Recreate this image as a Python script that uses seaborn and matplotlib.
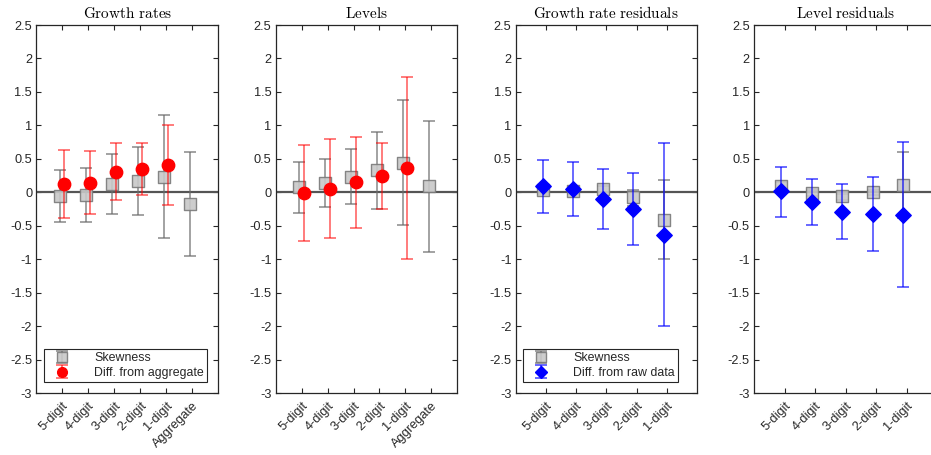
import matplotlib
matplotlib.use("Agg")
import matplotlib.pyplot as plt
import numpy as np
import pandas as pd
import seaborn as sns
from matplotlib.lines import Line2D
from matplotlib.legend_handler import HandlerTuple

# ---- data -------------------------------------------------------------
levels_agg = ["5-digit", "4-digit", "3-digit", "2-digit", "1-digit", "Aggregate"]
levels = ["5-digit", "4-digit", "3-digit", "2-digit", "1-digit"]
y_ticks = [-3, -2.5, -2, -1.5, -1, -0.5, 0, 0.5, 1, 1.5, 2, 2.5]

# Growth rates
growth_skew = [-0.06, -0.04, 0.12, 0.17, 0.23, -0.18]
growth_skew_lo = [-0.45, -0.45, -0.33, -0.34, -0.68, -0.955]
growth_skew_hi = [0.34, 0.37, 0.57, 0.67, 1.15, 0.60]
growth_diff = [0.12, 0.14, 0.30, 0.35, 0.41]
growth_diff_lo = [-0.38, -0.33, -0.12, -0.035, -0.19]
growth_diff_hi = [0.63, 0.61, 0.73, 0.73, 1.01]

# Levels
level_skew = [0.08, 0.14, 0.23, 0.33, 0.44, 0.09]
level_skew_lo = [-0.31, -0.22, -0.18, -0.25, -0.49, -0.89]
level_skew_hi = [0.45, 0.49, 0.65, 0.90, 1.38, 1.06]
level_diff = [-0.015, 0.05, 0.15, 0.24, 0.36]
level_diff_lo = [-0.73, -0.69, -0.53, -0.25, -1.00]
level_diff_hi = [0.70, 0.79, 0.83, 0.73, 1.72]

# Growth rate residuals
gres_skew = [0.03, 0.015, 0.05, -0.07, -0.41]
gres_skew_lo = [-0.02, -0.03, 0.00, -0.20, -0.99]
gres_skew_hi = [0.08, 0.06, 0.10, 0.035, 0.19]
gres_raw = [0.09, 0.055, -0.10, -0.245, -0.64]
gres_raw_lo = [-0.31, -0.355, -0.55, -0.785, -2.00]
gres_raw_hi = [0.48, 0.45, 0.35, 0.295, 0.73]

# Level residuals
lres_skew = [0.09, -0.01, -0.06, 0.00, 0.105]
lres_skew_lo = [0.03, -0.06, -0.11, -0.04, -0.39]
lres_skew_hi = [0.15, 0.03, -0.02, 0.04, 0.605]
lres_raw = [0.015, -0.14, -0.29, -0.33, -0.34]
lres_raw_lo = [-0.365, -0.49, -0.695, -0.875, -1.42]
lres_raw_hi = [0.375, 0.195, 0.12, 0.225, 0.745]

# ---- style ------------------------------------------------------------
sns.set_theme(style="ticks")
plt.rcParams["font.family"] = ["Liberation Sans", "DejaVu Sans"]
plt.rcParams["mathtext.fontset"] = "cm"

INK = "#262626"
GRAY_BAR = (0.42, 0.42, 0.42)
GRAY_FACE = "#c8c8c8"
GRAY_EDGE = "#7a7a7a"
TICK_FS = 9.2
LEG_FS = 8.9

W, H = 931, 455


def panel(rect_px):
    left, width = rect_px
    bottom, top = 393, 25
    return fig.add_axes([left / W, (H - bottom) / H, width / W, (bottom - top) / H])


def bars(ax, x, mid, lo, hi, color, alpha, z):
    mid = np.asarray(mid)
    err = np.vstack([mid - np.asarray(lo), np.asarray(hi) - mid])
    return ax.errorbar(x, mid, yerr=err, fmt="none", ecolor=color, elinewidth=1.1,
                       capsize=4.2, capthick=1.1, alpha=alpha, zorder=z)


def markers(ax, x, y, marker, size, face, edge, alpha, z):
    df = pd.DataFrame({"x": x, "y": y})
    sns.scatterplot(data=df, x="x", y="y", marker=marker, s=size, color=face,
                    edgecolor=edge, linewidth=1.0, alpha=alpha, zorder=z,
                    legend=False, ax=ax)


def decorate(ax, title, labels):
    n = len(labels)
    ax.set_xlim(0, n + 1)
    ax.set_ylim(-3, 2.5)
    ax.axhline(0, color="#555555", lw=1.6, zorder=1.5)
    ax.set_xticks(np.arange(1, n + 1))
    ax.set_xticklabels(labels, rotation=45, ha="right", rotation_mode="anchor",
                       fontsize=TICK_FS, color=INK)
    ax.set_yticks(y_ticks)
    ax.set_yticklabels([f"{v:g}" for v in y_ticks], fontsize=TICK_FS, color=INK)
    ax.tick_params(direction="in", length=3.5, width=0.8, colors=INK,
                   top=True, right=True, pad=3)
    ax.tick_params(axis="x", pad=5)
    for s in ax.spines.values():
        s.set_visible(True)
        s.set_color(INK)
        s.set_linewidth(0.9)
    ax.set_xlabel("")
    ax.set_ylabel("")
    words = title.replace(" ", r"\ ")
    ax.set_title(r"$\mathrm{" + words + "}$", fontsize=11, color="black", pad=5)


def legend(ax, skew_bar, other_bar, marker, color, ms, label):
    sq = Line2D([], [], marker="s", ls="none", markersize=6.5,
                markerfacecolor=GRAY_FACE, markeredgecolor=GRAY_EDGE, alpha=0.9)
    mk = Line2D([], [], marker=marker, ls="none", markersize=ms,
                markerfacecolor=color, markeredgecolor=color)
    leg = ax.legend([(skew_bar, sq), (other_bar, mk)], ["Skewness", label],
                    handler_map={tuple: HandlerTuple(ndivide=1, pad=0)},
                    loc="lower left", bbox_to_anchor=(0.042, 0.03),
                    fontsize=LEG_FS, frameon=True, fancybox=False,
                    framealpha=1, edgecolor=INK, borderpad=0.25, labelspacing=0.2,
                    handlelength=2.4, handletextpad=1.4, borderaxespad=0)
    leg.get_frame().set_linewidth(0.8)
    for t in leg.get_texts():
        t.set_color(INK)


fig = plt.figure(figsize=(W / 100, H / 100), dpi=100)
fig.patch.set_facecolor("white")

SKEW_SHIFT = -0.1
DIFF_SHIFT = 0.08

# Growth rates
ax = panel((36.3, 182))
x6 = np.arange(1, 7)
x5 = np.arange(1, 6)
gb = bars(ax, x6 + SKEW_SHIFT, growth_skew, growth_skew_lo, growth_skew_hi, GRAY_BAR, 0.8, 2)
markers(ax, x6 + SKEW_SHIFT, growth_skew, "s", 66, GRAY_FACE, GRAY_EDGE, 0.9, 3)
rb = bars(ax, x5 + DIFF_SHIFT, growth_diff, growth_diff_lo, growth_diff_hi, "red", 0.65, 4)
markers(ax, x5 + DIFF_SHIFT, growth_diff, "o", 80, "red", "red", 1.0, 5)
decorate(ax, "Growth rates", levels_agg)
legend(ax, gb, rb, "o", "red", 7, "Diff. from aggregate")

# Levels
ax = panel((275.7, 181.6))
bars(ax, x6 + SKEW_SHIFT, level_skew, level_skew_lo, level_skew_hi, GRAY_BAR, 0.8, 2)
markers(ax, x6 + SKEW_SHIFT, level_skew, "s", 66, GRAY_FACE, GRAY_EDGE, 0.9, 3)
bars(ax, x5 + DIFF_SHIFT, level_diff, level_diff_lo, level_diff_hi, "red", 0.65, 4)
markers(ax, x5 + DIFF_SHIFT, level_diff, "o", 80, "red", "red", 1.0, 5)
decorate(ax, "Levels", levels_agg)

# Growth rate residuals
ax = panel((515.7, 181.2))
gb = bars(ax, x5 + SKEW_SHIFT, gres_skew, gres_skew_lo, gres_skew_hi, GRAY_BAR, 0.8, 2)
markers(ax, x5 + SKEW_SHIFT, gres_skew, "s", 66, GRAY_FACE, GRAY_EDGE, 0.9, 3)
bb = bars(ax, x5 + SKEW_SHIFT, gres_raw, gres_raw_lo, gres_raw_hi, "blue", 0.75, 4)
markers(ax, x5 + SKEW_SHIFT, gres_raw, "D", 62, "blue", "blue", 1.0, 5)
decorate(ax, "Growth rate residuals", levels)
legend(ax, gb, bb, "D", "blue", 6, "Diff. from raw data")

# Level residuals
ax = panel((754, 183))
bars(ax, x5 + SKEW_SHIFT, lres_skew, lres_skew_lo, lres_skew_hi, GRAY_BAR, 0.8, 2)
markers(ax, x5 + SKEW_SHIFT, lres_skew, "s", 66, GRAY_FACE, GRAY_EDGE, 0.9, 3)
bars(ax, x5 + SKEW_SHIFT, lres_raw, lres_raw_lo, lres_raw_hi, "blue", 0.75, 4)
markers(ax, x5 + SKEW_SHIFT, lres_raw, "D", 62, "blue", "blue", 1.0, 5)
decorate(ax, "Level residuals", levels)

fig.savefig("out.png", dpi=100)
